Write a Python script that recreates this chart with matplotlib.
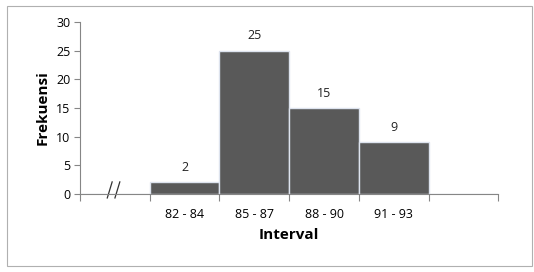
import matplotlib.pyplot as plt
from matplotlib.patches import Rectangle

# data
intervals = ["", "82 - 84", "85 - 87", "88 - 90", "91 - 93", ""]
frekuensi = [0, 2, 25, 15, 9, 0]
y_ticks = [0, 5, 10, 15, 20, 25, 30]

plt.rcParams['font.family'] = ['Open Sans', 'DejaVu Sans']

fig = plt.figure(figsize=(5.34, 2.72), dpi=100)
ax = fig.add_axes([0.150, 0.287, 0.783, 0.632])

x = list(range(len(intervals)))
ax.bar(x, frekuensi, width=1.0, color="#595959", edgecolor="#dde3ee", linewidth=1.0)

for xi, v in zip(x, frekuensi):
    if v > 0:
        ax.annotate(str(v), (xi, v), xytext=(0, 6), textcoords="offset points",
                    ha="center", va="bottom", fontsize=9, color="#222222")

ax.set_xlim(-0.5, len(intervals) - 0.5)
ax.set_ylim(0, 30)
ax.set_yticks(y_ticks)
ax.tick_params(axis="y", labelsize=9, length=4, color="#868686", pad=3)
ax.set_xticks([i - 0.5 for i in range(len(intervals) + 1)])
ax.set_xticklabels([])
ax.set_xticks(x, minor=True)
ax.set_xticklabels(intervals, minor=True)
ax.tick_params(axis="x", which="major", length=5, color="#868686")
ax.tick_params(axis="x", which="minor", length=0, labelsize=9, pad=10)

for s in ["top", "right"]:
    ax.spines[s].set_visible(False)
for s in ["left", "bottom"]:
    ax.spines[s].set_color("#868686")
    ax.spines[s].set_linewidth(0.8)

# axis break marks
for dx in (-0.11, 0.0):
    ax.plot([dx, dx + 0.07], [-0.7, 2.1], color="#333333", lw=0.9, clip_on=False)

ax.set_ylabel("Frekuensi", fontsize=11, fontweight="bold", labelpad=5)
ax.set_xlabel("Interval", fontsize=11, fontweight="bold", labelpad=5)

# outer border
fig.patches.append(Rectangle((7 / 534, 6 / 272), 525 / 534, 260 / 272, transform=fig.transFigure,
                             fill=False, edgecolor="#b0b0b0", linewidth=0.8))

fig.savefig("out.png", dpi=100)
